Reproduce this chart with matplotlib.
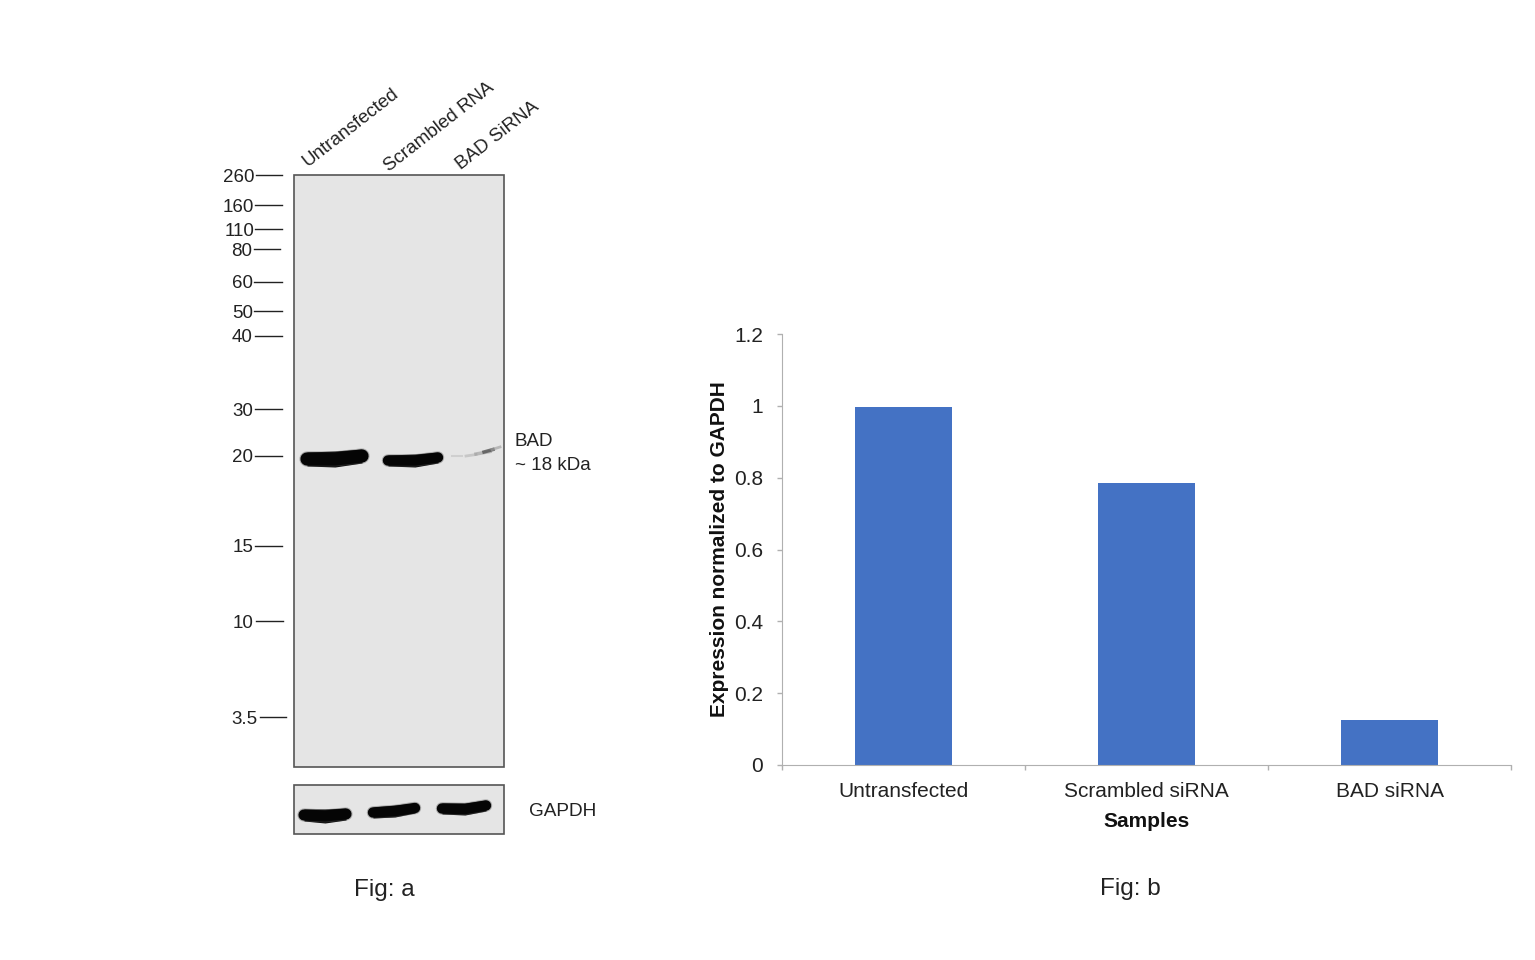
import matplotlib
matplotlib.use("Agg")
import matplotlib.pyplot as plt
import numpy as np

plt.rcParams['font.family'] = ['Liberation Sans', 'DejaVu Sans']

# bar chart values
samples = ['Untransfected', 'Scrambled siRNA', 'BAD siRNA']
expression = [0.998, 0.785, 0.125]

# blot labels
lanes = ['Untransfected', 'Scrambled RNA', 'BAD SiRNA']
ladder = ['260', '160', '110', '80', '60', '50', '40', '30', '20', '15', '10', '3.5']
ladder_y = [175, 205, 229, 249, 282, 311, 336, 409, 456, 546, 621, 717]
ladder_x0 = [256, 255, 255, 254, 254, 254, 255, 255, 255, 255, 256, 260]
ladder_x1 = [282, 282, 282, 280, 282, 282, 282, 282, 282, 282, 283, 286]
ladder_tx = [254, 254, 255, 252, 253, 253, 253, 253, 253, 253, 254, 257]

fig = plt.figure(figsize=(15.35, 9.6), dpi=100)

# whole figure in pixels for the blot side
ax = fig.add_axes([0, 0, 1, 1])
ax.set_xlim(0, 1535)
ax.set_ylim(960, 0)
ax.axis('off')

ax.add_patch(plt.Rectangle((293.5, 174.5), 210.5, 592, fc='#e5e5e5', ec='#555555', lw=1.2))
ax.add_patch(plt.Rectangle((293.5, 784.5), 210.5, 49, fc='#e5e5e5', ec='#555555', lw=1.2))


def band(xs, top, bottom, lw):
    # rounded body along the middle, with the outline filled on top
    mid = (np.array(top) + np.array(bottom)) / 2
    ax.plot(xs, mid, color='#555555', lw=lw + 1.5, alpha=0.4, solid_capstyle='round')
    ax.plot(xs, mid, color='#050505', lw=lw, solid_capstyle='round')
    ax.fill_between(xs, top, bottom, color='#050505', lw=0)


# BAD bands
band([307, 335, 362], [452, 451, 449], [466, 467, 463], 9.5)
band([388, 415, 438], [455, 454, 452], [466, 467, 463], 7.5)

# faint BAD band in the knockdown lane
ax.plot([452, 462], [456, 456], color='#bbbbbb', lw=1.5, alpha=0.5)
ax.plot([466, 476], [456, 454.5], color='#aaaaaa', lw=2, alpha=0.5)
ax.plot([476, 490], [454, 451.5], color='#999999', lw=2.5, alpha=0.6)
ax.plot([484, 493], [452, 449.5], color='#444444', lw=2.5, alpha=0.7)
ax.plot([492, 500], [449.5, 447], color='#999999', lw=2, alpha=0.6)

# GAPDH bands
band([304, 325, 346], [809, 809, 808], [821, 823, 820], 8)
band([373, 395, 415], [807, 805, 803], [818, 817, 813], 7.5)
band([442, 465, 486], [803, 803, 800], [814, 815, 811], 7.5)

for lab, y, x0, x1, tx in zip(ladder, ladder_y, ladder_x0, ladder_x1, ladder_tx):
    ax.plot([x0, x1], [y, y], color='#222222', lw=1)
    ax.text(tx, y + 2, lab, ha='right', va='center', fontsize=13.5, color='#222222')

lane_x = [310, 391, 463]
lane_y = [170, 175, 173]
for lab, x, y in zip(lanes, lane_x, lane_y):
    ax.text(x, y, lab, rotation=38, rotation_mode='anchor', ha='left', va='bottom',
            fontsize=13.5, color='#222222')

ax.text(515, 441, 'BAD', ha='left', va='center', fontsize=13.5, color='#222222')
ax.text(515, 465, '~ 18 kDa', ha='left', va='center', fontsize=13.5, color='#222222')
ax.text(529, 811, 'GAPDH', ha='left', va='center', fontsize=13.7, color='#222222')
ax.text(384, 890, 'Fig: a', ha='center', va='center', fontsize=17.5, color='#222222')
ax.text(1130, 889, 'Fig: b', ha='center', va='center', fontsize=17.5, color='#222222')

# bar chart
bx = fig.add_axes([782 / 1535, 1 - 765 / 960, 729 / 1535, 431 / 960])
bx.patch.set_alpha(0)
bx.bar(range(3), expression, width=0.4, color='#4472c4')
bx.set_xlim(-0.5, 2.5)
bx.set_ylim(0, 1.2)
bx.set_yticks([0, 0.2, 0.4, 0.6, 0.8, 1, 1.2])
bx.set_yticklabels(['0', '0.2', '0.4', '0.6', '0.8', '1', '1.2'], fontsize=15, color='#222222')
bx.set_xticks([-0.5, 0.5, 1.5, 2.5])
bx.set_xticklabels([])
bx.set_xticks(range(3), labels=samples, minor=True, fontsize=15, color='#222222')
bx.tick_params(axis='x', which='minor', length=0, pad=12)
bx.tick_params(axis='x', which='major', length=3.5, color='#b0b0b0', width=1)
bx.tick_params(axis='y', length=3.5, color='#b0b0b0', width=1, pad=10)
for s in ['top', 'right']:
    bx.spines[s].set_visible(False)
for s in ['left', 'bottom']:
    bx.spines[s].set_color('#b0b0b0')
bx.set_xlabel('Samples', fontweight='bold', fontsize=15, labelpad=8, color='#111111')
bx.set_ylabel('Expression normalized to GAPDH', fontweight='bold', fontsize=15, labelpad=4, color='#111111')

fig.savefig('out.png', dpi=100)
